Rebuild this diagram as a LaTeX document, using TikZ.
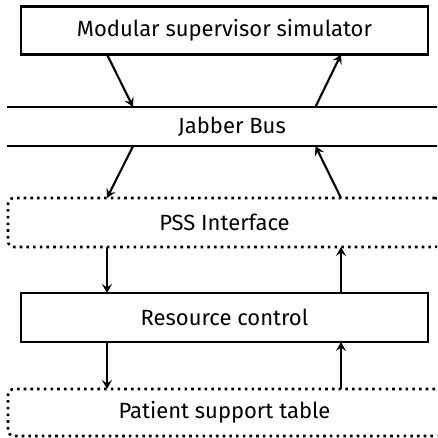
\documentclass[tikz,border=0pt]{standalone}
\usepackage{fontspec}
\setmainfont{Fira Sans}
\usetikzlibrary{calc,arrows.meta}
\begin{document}
\begin{tikzpicture}[x=1pt,y=-1pt,
  label font/.style={font=\fontsize{22}{26}\selectfont},
  solidbox/.style={draw, line width=2.1pt, inner sep=0pt, outer sep=0pt,
    minimum width=407pt, minimum height=48pt, label font},
  dotbox/.style={draw, line width=2.6pt, dash pattern=on 2.6pt off 4.1pt,
    rounded corners=6pt, inner sep=0pt, outer sep=0pt,
    minimum width=433pt, minimum height=49pt, label font},
  link/.style={line width=2.1pt, -{Stealth[length=9pt,width=10pt,inset=3.5pt]}}]
\useasboundingbox (0,0) rectangle (437,438);
\begin{scope}
\clip (0,0) rectangle (437,438);
% blocks, top to bottom
\node[solidbox] (sim) at (224.5,30.5) {Modular supervisor simulator};
\node[label font, inner sep=0pt, minimum width=450pt,
      minimum height=39pt] (bus) at (232,126.5) {Jabber Bus};
\draw[line width=2.1pt] (bus.north west) -- (bus.north east)
                        (bus.south west) -- (bus.south east);
\node[dotbox] (pss) at (224.5,222.5) {PSS Interface};
\node[solidbox, minimum height=49pt] (rc) at (224.5,317.5) {Resource control};
\node[dotbox, minimum height=47pt] (pst) at (224.5,412.5) {Patient support table};
\end{scope}
% columns for the connectors
\coordinate (xa) at (107,0);
\coordinate (xb) at (133,0);
\coordinate (xc) at (315.5,0);
\coordinate (xd) at (341,0);
% simulator <-> bus
\draw[link] (sim.south -| xa) -- (bus.north -| xb);
\draw[link] (bus.north -| xc) -- (sim.south -| xd);
% bus <-> PSS interface
\draw[link] (bus.south -| xb) -- (pss.north -| xa);
\draw[link] (pss.north -| xd) -- (bus.south -| xc);
% PSS interface <-> resource control
\draw[link] (pss.south -| xa) -- (rc.north -| xa);
\draw[link] (rc.north -| xd) -- (pss.south -| xd);
% resource control <-> table
\draw[link] (rc.south -| xa) -- (pst.north -| xa);
\draw[link] (pst.north -| xd) -- (rc.south -| xd);
\end{tikzpicture}
\end{document}
